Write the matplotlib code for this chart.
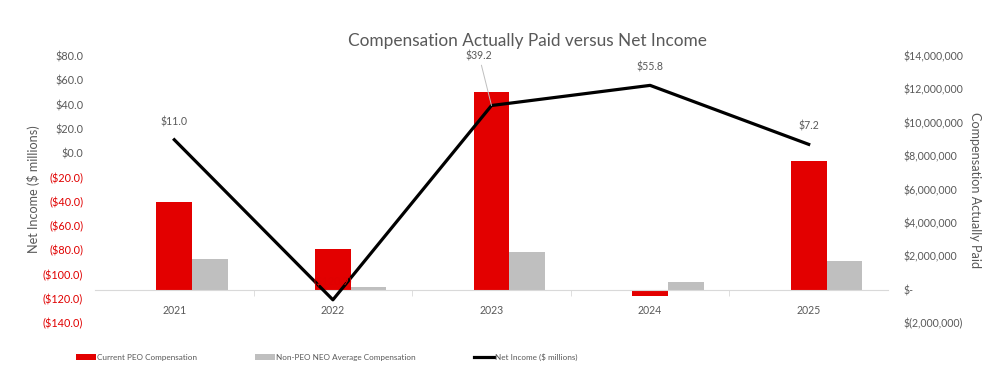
import numpy as np
import matplotlib.pyplot as plt
from matplotlib.ticker import FuncFormatter, FixedLocator

plt.rcParams['font.family'] = ['Lato', 'DejaVu Sans']

# data
years = ['2021', '2022', '2023', '2024', '2025']
peo_cap = [5.27e6, 2.46e6, 11.86e6, -0.40e6, 7.73e6]
neo_cap = [1.86e6, 0.15e6, 2.28e6, 0.44e6, 1.74e6]
net_income = [11.0, -120.9, 39.2, 55.8, 7.2]

RED = '#E30000'
GRAY = '#BFBFBF'
TXT = '#595959'
NEG = '#E00000'


def money_left(v, pos):
    if v < 0:
        return '(${:.1f})'.format(-v)
    return '${:.1f}'.format(v)


def money_right(v, pos):
    if abs(v) < 1:
        return '$-'
    if v < 0:
        return '$({:,.0f})'.format(-v)
    return '${:,.0f}'.format(v)


fig = plt.figure(figsize=(9.92, 3.75), dpi=100)
ax = fig.add_axes([95 / 992, 1 - 323 / 375, 793 / 992, 267 / 375])
ax2 = ax.twinx()
x = np.arange(len(years))
w = 0.225

# bars on the compensation axis (shown on the right)
b1 = ax.bar(x, peo_cap, w, color=RED, label='Current PEO Compensation', zorder=2)
b2 = ax.bar(x + w, neo_cap, w, color=GRAY, label='Non-PEO NEO Average Compensation', zorder=2)
ax.set_xlim(-0.5, 4.5)
ax.set_ylim(-2e6, 14e6)
ax.yaxis.tick_right()
ax.yaxis.set_label_position('right')
ax.set_yticks(np.arange(-2e6, 14.1e6, 2e6))
ax.yaxis.set_major_formatter(FuncFormatter(money_right))
ax.tick_params(axis='y', length=0, pad=11.5, labelsize=7.6, labelcolor=TXT)
ax.set_ylabel('Compensation Actually Paid', rotation=-90, color=TXT, fontsize=9.1, labelpad=12)

for s in ['top', 'left', 'right']:
    ax.spines[s].set_visible(False)
ax.spines['bottom'].set_position(('data', 0))
ax.spines['bottom'].set_color('#D9D9D9')
ax.set_xticks(x)
ax.set_xticklabels(years)
ax.xaxis.set_minor_locator(FixedLocator(np.arange(0.5, 4.0, 1.0)))
ax.tick_params(axis='x', which='major', length=0, pad=11, labelsize=7.6, labelcolor=TXT)
ax.tick_params(axis='x', which='minor', length=4, color='#D9D9D9', direction='out')

# net income line on the left axis
ax2.yaxis.tick_left()
ax2.yaxis.set_label_position('left')
ln, = ax2.plot(x, net_income, color='black', lw=2.3, label='Net Income ($ millions)', zorder=3)
ax2.set_ylim(-140, 80)
ax2.set_yticks(np.arange(-140, 81, 20))
ax2.yaxis.set_major_formatter(FuncFormatter(money_left))
ax2.tick_params(axis='y', length=0, pad=8.5, labelsize=7.8, labelcolor=TXT)
for lab, v in zip(ax2.get_yticklabels(), np.arange(-140, 81, 20)):
    if v < 0:
        lab.set_color(NEG)
ax2.set_ylabel('Net Income ($ millions)', color=TXT, fontsize=9.1, labelpad=2)
for s in ax2.spines.values():
    s.set_visible(False)

# data labels
for i, v in enumerate(net_income):
    txt = money_left(v, None)
    col = NEG if v < 0 else TXT
    if i == 2:
        ax2.annotate(txt, (x[i], v), xytext=(-9, 32), textcoords='offset points',
                     ha='center', va='bottom', fontsize=7.6, color=col,
                     arrowprops=dict(arrowstyle='-', color='#BFBFBF', lw=0.7,
                                     shrinkA=1, shrinkB=0))
    else:
        ax2.annotate(txt, (x[i], v), xytext=(0, 9), textcoords='offset points',
                     ha='center', va='bottom', fontsize=7.6, color=col)

fig.text(527 / 992, 1 - 41 / 375, 'Compensation Actually Paid versus Net Income',
         ha='center', va='center', fontsize=12.4, color=TXT)

fig.legend(handles=[b1, b2, ln], loc='center left', bbox_to_anchor=(69 / 992, 1 - 357 / 375),
           ncol=3, frameon=False, fontsize=5.9, labelcolor=TXT, handlelength=2.4,
           handleheight=0.8, handletextpad=0.15, columnspacing=7.1)

fig.savefig('out.png', dpi=100)
